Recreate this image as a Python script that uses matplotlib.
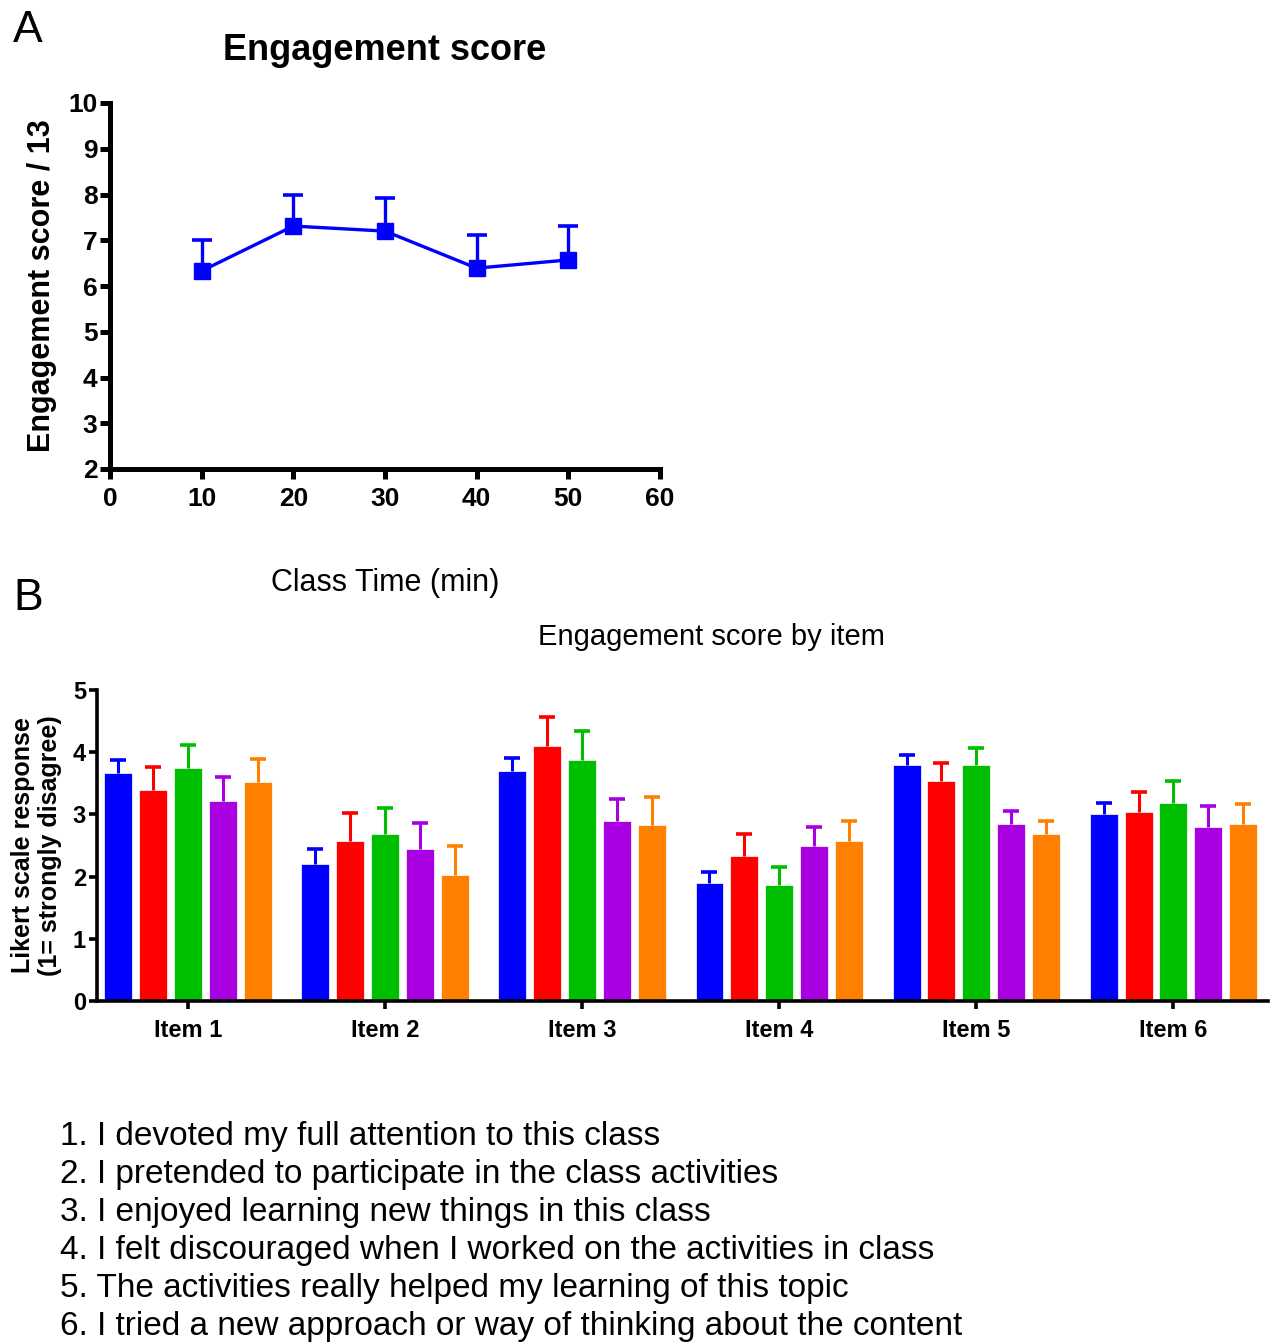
import matplotlib
matplotlib.use("Agg")
import matplotlib.pyplot as plt
import numpy as np

plt.rcParams['font.family'] = ['Liberation Sans', 'DejaVu Sans']

# Panel A data
time_min = [10, 20, 30, 40, 50]
eng_mean = [6.33, 7.31, 7.20, 6.39, 6.57]
eng_err = [0.67, 0.68, 0.72, 0.72, 0.74]

# Panel B data
items = ["Item 1", "Item 2", "Item 3", "Item 4", "Item 5", "Item 6"]
series_colors = ["#0000FF", "#FF0000", "#00BF00", "#A800E0", "#FF8000"]
s1_mean = [3.67, 2.20, 3.70, 1.90, 3.80, 3.00]
s1_err = [0.20, 0.25, 0.20, 0.18, 0.15, 0.18]
s2_mean = [3.40, 2.57, 4.10, 2.33, 3.54, 3.04]
s2_err = [0.36, 0.46, 0.46, 0.36, 0.28, 0.32]
s3_mean = [3.75, 2.69, 3.88, 1.87, 3.79, 3.19]
s3_err = [0.37, 0.41, 0.46, 0.28, 0.27, 0.34]
s4_mean = [3.22, 2.45, 2.90, 2.50, 2.84, 2.80]
s4_err = [0.38, 0.41, 0.35, 0.29, 0.21, 0.33]
s5_mean = [3.52, 2.03, 2.83, 2.58, 2.69, 2.84]
s5_err = [0.37, 0.46, 0.45, 0.32, 0.21, 0.32]

item_texts = [
    "1. I devoted my full attention to this class",
    "2. I pretended to participate in the class activities",
    "3. I enjoyed learning new things in this class",
    "4. I felt discouraged when I worked on the activities in class",
    "5. The activities really helped my learning of this topic",
    "6. I tried a new approach or way of thinking about the content",
]

W, H = 1275, 1342
fig = plt.figure(figsize=(W / 100, H / 100), dpi=100)

def fx(px):
    return px / W

def fy(py):
    return 1 - py / H

def upper_err(ax, xs, m, e, color, lw, capw, capms):
    xs = np.asarray(xs, dtype=float)
    top = np.asarray(m) + np.asarray(e)
    ax.vlines(xs, m, top, colors=color, linewidth=lw, zorder=3)
    ax.plot(xs, top, ls="none", marker="_", markersize=capms, mew=capw,
            color=color, zorder=3)

# ---------- Panel A ----------
axA = fig.add_axes([fx(110), fy(469), fx(660) - fx(110), fy(103) - fy(469)])
upper_err(axA, time_min, eng_mean, eng_err, "#0000FF", 2.4, 2.6, 14)
axA.plot(time_min, eng_mean, color="#0000FF", lw=2.4, marker="s", markersize=11, zorder=4)
axA.set_xlim(0, 60)
axA.set_ylim(2, 10)
axA.set_xticks([0, 10, 20, 30, 40, 50, 60])
axA.set_yticks(range(2, 11))
for s in ["top", "right"]:
    axA.spines[s].set_visible(False)
for s in ["left", "bottom"]:
    axA.spines[s].set_linewidth(3.6)
axA.tick_params(axis="both", width=3.6, length=7, labelsize=19)
axA.tick_params(axis="x", pad=6)
axA.tick_params(axis="y", pad=2)
for lab in axA.get_xticklabels() + axA.get_yticklabels():
    lab.set_fontweight("bold")
axA.set_ylabel("Engagement score / 13", fontsize=22, fontweight="bold", labelpad=8)

fig.text(fx(28), fy(30), "A", fontsize=32, ha="center", va="center")
fig.text(fx(385), fy(50), "Engagement score", fontsize=26, fontweight="bold",
         ha="center", va="center")
fig.text(fx(385), fy(583), "Class Time (min)", fontsize=22, ha="center", va="center")

# ---------- Panel B ----------
axB = fig.add_axes([fx(97), fy(1001), fx(1268) - fx(97), fy(690) - fy(1001)])
x = np.arange(len(items))
bw = 0.142
step = 0.177
all_means = [s1_mean, s2_mean, s3_mean, s4_mean, s5_mean]
all_errs = [s1_err, s2_err, s3_err, s4_err, s5_err]
for i, (m, e, c) in enumerate(zip(all_means, all_errs, series_colors)):
    pos = x + (i - 2) * step
    axB.bar(pos, m, width=bw, color=c, edgecolor="white", linewidth=0.5, zorder=2)
    upper_err(axB, pos, m, e, c, 2.2, 2.6, 12)
axB.set_xlim(-0.462, 5.48)
axB.set_ylim(0, 5)
axB.set_yticks(range(0, 6))
axB.set_xticks(x)
axB.set_xticklabels(items)
for s in ["top", "right"]:
    axB.spines[s].set_visible(False)
for s in ["left", "bottom"]:
    axB.spines[s].set_linewidth(2.6)
axB.tick_params(axis="both", width=2.6, length=6, labelsize=17)
axB.tick_params(axis="x", pad=7)
axB.tick_params(axis="y", pad=2)
for lab in axB.get_xticklabels() + axB.get_yticklabels():
    lab.set_fontweight("bold")
axB.set_ylabel("Likert scale response\n(1= strongly disagree)", fontsize=18,
               fontweight="bold", labelpad=8, linespacing=1.15)

fig.text(fx(28), fy(598), "B", fontsize=32, ha="center", va="center")
fig.text(fx(711), fy(637), "Engagement score by item", fontsize=21,
         ha="center", va="center")

for k, t in enumerate(item_texts):
    fig.text(fx(60), fy(1136 + 38 * k), t, fontsize=24, ha="left", va="center")

fig.savefig("out.png", dpi=100)
